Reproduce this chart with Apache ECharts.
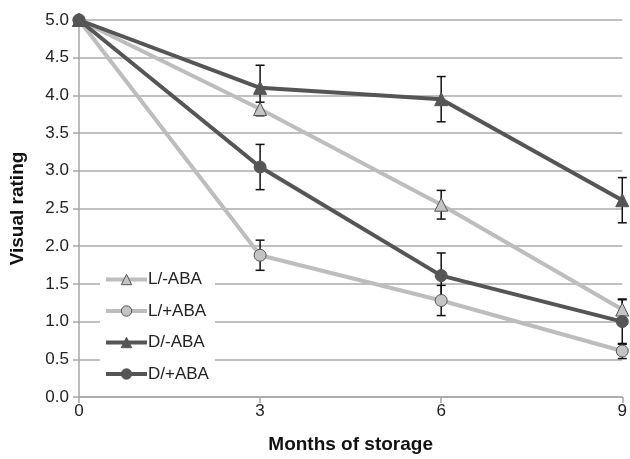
<!DOCTYPE html>
<html>
<head>
<meta charset="utf-8">
<script src="https://cdn.jsdelivr.net/npm/echarts@6/dist/echarts.min.js"></script>
<style>html,body{margin:0;padding:0;background:#fff}#c{width:630px;height:459px}</style>
</head>
<body>
<div id="c"></div>
<script>
var months = [0, 3, 6, 9];
var xTicks = ['0', '3', '6', '9'];
var seriesNames = ['L/-ABA', 'L/+ABA', 'D/-ABA', 'D/+ABA'];
var lMinusABA = [5.0, 3.82, 2.55, 1.16];
var lPlusABA = [5.0, 1.88, 1.28, 0.61];
var dMinusABA = [5.0, 4.10, 3.95, 2.61];
var dPlusABA = [5.0, 3.05, 1.61, 1.00];
var lMinusErr = [0, 0.09, 0.19, 0.13];
var lPlusErr = [0, 0.20, 0.20, 0.10];
var dMinusErr = [0, 0.30, 0.30, 0.30];
var dPlusErr = [0, 0.30, 0.30, 0.30];

var FONT = '"Liberation Sans", Arial, sans-serif';
var LIGHT = '#bdbdbd', DARK = '#555555';

var values = [lMinusABA, lPlusABA, dMinusABA, dPlusABA];
var errs = [lMinusErr, lPlusErr, dMinusErr, dPlusErr];
var styles = [
  {color: LIGHT, fill: '#c4c4c4', symbol: 'triangle'},
  {color: LIGHT, fill: '#c4c4c4', symbol: 'circle'},
  {color: DARK, fill: '#555555', symbol: 'triangle'},
  {color: DARK, fill: '#555555', symbol: 'circle'}
];

var series = [];
values.forEach(function (vals, i) {
  var errData = months.map(function (m, j) { return [m, vals[j], errs[i][j]]; });
  series.push({
    type: 'custom',
    name: seriesNames[i] + ' err',
    z: 1,
    silent: true,
    clip: false,
    data: errData.filter(function (d) { return d[2] > 0; }),
    renderItem: function (params, api) {
      var x = api.value(0), y = api.value(1), e = api.value(2);
      var top = api.coord([x, y + e]);
      var bot = api.coord([x, y - e]);
      var hw = 4.5;
      var st = {stroke: '#111', lineWidth: 1.5};
      return {
        type: 'group',
        children: [
          {type: 'line', shape: {x1: top[0], y1: top[1], x2: bot[0], y2: bot[1]}, style: st},
          {type: 'line', shape: {x1: top[0] - hw, y1: top[1], x2: top[0] + hw, y2: top[1]}, style: st},
          {type: 'line', shape: {x1: bot[0] - hw, y1: bot[1], x2: bot[0] + hw, y2: bot[1]}, style: st}
        ]
      };
    }
  });
});
values.forEach(function (vals, i) {
  series.push({
    type: 'line',
    name: seriesNames[i],
    z: 2 + i,
    data: months.map(function (m, j) { return [m, vals[j]]; }),
    symbol: styles[i].symbol,
    symbolSize: styles[i].symbol === 'triangle' ? 13 : 12,
    showAllSymbol: true,
    clip: false,
    lineStyle: {color: styles[i].color, width: 4},
    itemStyle: {color: styles[i].fill, borderColor: '#555', borderWidth: 1},
    emphasis: {disabled: true},
    animation: false
  });
});

var legendData = seriesNames.map(function (n, i) {
  return {
    name: n,
    itemStyle: {color: styles[i].fill, borderColor: '#555', borderWidth: 1},
    lineStyle: {color: styles[i].color, width: 4}
  };
});

var chart = echarts.init(document.getElementById('c'), null, {renderer: 'canvas'});
chart.setOption({
  animation: false,
  backgroundColor: '#fff',
  grid: {left: 76, right: 5, top: 20, bottom: 61, containLabel: false},
  xAxis: {
    type: 'value', min: 0, max: 9, interval: 3,
    name: 'Months of storage', nameLocation: 'middle', nameGap: 38,
    nameTextStyle: {fontFamily: FONT, fontWeight: 'bold', fontSize: 19, color: '#111'},
    axisLine: {show: true, lineStyle: {color: '#a6a6a6', width: 1.5}},
    axisTick: {show: true, length: 6, lineStyle: {color: '#a6a6a6', width: 1.5}},
    axisLabel: {fontFamily: FONT, fontSize: 17, color: '#222', margin: 6,
      formatter: function (v) { return xTicks[months.indexOf(v)] || ''; }},
    splitLine: {show: false}
  },
  yAxis: {
    type: 'value', min: 0, max: 5, interval: 0.5,
    name: 'Visual rating', nameLocation: 'middle', nameGap: 52,
    nameTextStyle: {fontFamily: FONT, fontWeight: 'bold', fontSize: 19, color: '#111'},
    axisLine: {show: true, lineStyle: {color: '#a6a6a6', width: 1.5}},
    axisTick: {show: true, length: 6, lineStyle: {color: '#a6a6a6', width: 1.5}},
    axisLabel: {fontFamily: FONT, fontSize: 17, color: '#222', margin: 10,
      formatter: function (v) { return v.toFixed(1); }},
    splitLine: {show: true, lineStyle: {color: '#ababab', width: 1.5}}
  },
  legend: {
    data: legendData,
    orient: 'vertical',
    left: 100, top: 266,
    itemWidth: 41, itemHeight: 13,
    itemGap: 14.5,
    padding: [5, 6, 5, 4],
    backgroundColor: '#fff',
    textStyle: {fontFamily: FONT, fontSize: 17, color: '#222', lineHeight: 17, padding: [0, 0, 0, -4]},
    selectedMode: false,
    z: 10
  },
  series: series
});
</script>
</body>
</html>
